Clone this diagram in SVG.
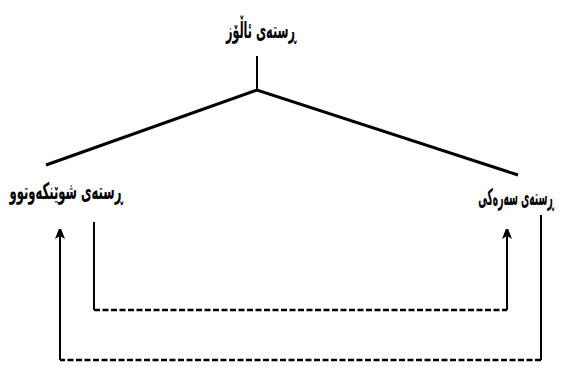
<svg xmlns="http://www.w3.org/2000/svg" width="561" height="366" viewBox="0 0 561 366">
<defs>
<style>
.t{font-family:"DejaVu Sans Condensed","DejaVu Sans",sans-serif;font-weight:bold;font-size:23px;fill:#000;text-anchor:middle}
.s{stroke:#000;stroke-width:2;fill:none}
.tree{stroke:#000;stroke-width:3;fill:none}
.d{stroke:#000;stroke-width:2.5;fill:none;stroke-dasharray:6 2.5}
</style>
<marker id="ah" viewBox="0 0 10 14" refX="9" refY="5" markerWidth="10" markerHeight="14" markerUnits="userSpaceOnUse" orient="auto">
<path d="M0,0 L13,5 L0,10 L3,5 z" fill="#000"/>
</marker>
</defs>
<rect width="561" height="366" fill="#fff"/>
<g id="root"><text class="t" transform="translate(261,38) scale(0.54,1)" direction="rtl">ڕستەی ئاڵۆز</text></g>
<g id="sub"><text class="t" transform="translate(66,199) scale(0.56,1)" direction="rtl">ڕستەی شوێنکەوتوو</text></g>
<g id="main"><text class="t" transform="translate(516,205) scale(0.44,1)" direction="rtl">ڕستەی سەرەکی</text></g>
<g id="connectors">
<path class="s" d="M257,56 L257,90"/>
<path class="tree" d="M46,165 L257,90 L518,175"/>
<path class="s" d="M94,222 L94,310"/>
<path class="d" d="M94,310 L507,310"/>
<path class="s" d="M507,310 L507,230" marker-end="url(#ah)"/>
<path class="s" d="M541,215 L541,360"/>
<path class="d" d="M541,360 L60,360"/>
<path class="s" d="M60,360 L60,230" marker-end="url(#ah)"/>
</g>
</svg>
